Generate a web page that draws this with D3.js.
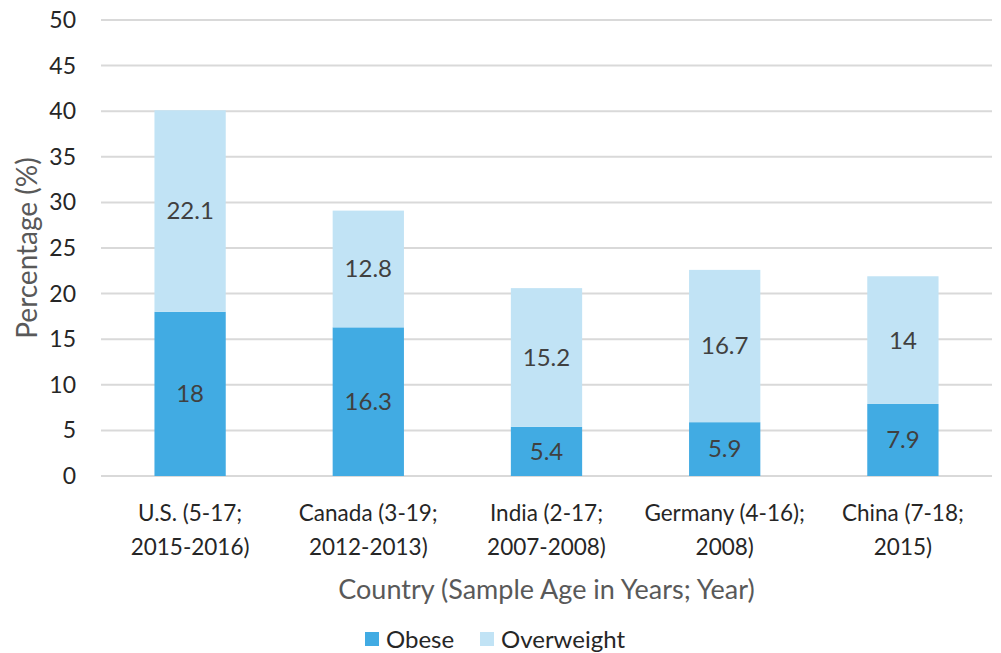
<!DOCTYPE html>
<html>
<head>
<meta charset="utf-8">
<script src="https://cdn.jsdelivr.net/npm/d3@7"></script>
<style>
  body { margin: 0; background: #fff; }
  svg text { font-family: Lato, "Open Sans", sans-serif; }
</style>
</head>
<body>
<div id="chart"></div>
<script>
// chart data
var categories = [
    ["U.S. (5-17;", "2015-2016)"],
    ["Canada (3-19;", "2012-2013)"],
    ["India (2-17;", "2007-2008)"],
    ["Germany (4-16);", "2008)"],
    ["China (7-18;", "2015)"]
]
var obese = [18, 16.3, 5.4, 5.9, 7.9]
var overweight = [22.1, 12.8, 15.2, 16.7, 14]
var yTicks = [0, 5, 10, 15, 20, 25, 30, 35, 40, 45, 50]
var seriesNames = ["Obese", "Overweight"]
var colors = ["#41ABE3", "#C1E3F5"]

var width = 1001, height = 653
var margin = { top: 20, right: 9, bottom: 177, left: 101 }

var svg = d3.select("#chart").append("svg")
    .attr("width", width)
    .attr("height", height)

var x = d3.scaleBand()
    .domain(d3.range(categories.length))
    .range([margin.left, width - margin.right])
    .paddingInner(0.6)
    .paddingOuter(0.3)

var y = d3.scaleLinear()
    .domain([0, 50])
    .range([height - margin.bottom, margin.top])

// gridlines
svg.append("g")
    .selectAll("line")
    .data(yTicks)
    .enter()
    .append("line")
    .attr("x1", margin.left)
    .attr("x2", width - margin.right)
    .attr("y1", d => y(d))
    .attr("y2", d => y(d))
    .attr("stroke", "#d9d9d9")
    .attr("stroke-width", 2)

// y tick labels
svg.append("g")
    .selectAll("text")
    .data(yTicks)
    .enter()
    .append("text")
    .attr("x", 76)
    .attr("y", d => y(d))
    .attr("dy", "0.35em")
    .attr("text-anchor", "end")
    .attr("font-size", 23)
    .attr("fill", "#262626")
    .text(d => d)

// stacked data
var rows = categories.map(function (c, i) {
    return { i: i, Obese: obese[i], Overweight: overweight[i] }
})
var stack = d3.stack().keys(seriesNames)
var series = stack(rows)

var groups = svg.append("g")
    .selectAll("g")
    .data(series)
    .enter()
    .append("g")
    .attr("fill", (d, k) => colors[k])

groups.selectAll("rect")
    .data(d => d)
    .enter()
    .append("rect")
    .attr("x", d => x(d.data.i))
    .attr("width", x.bandwidth())
    .attr("y", d => y(d[1]))
    .attr("height", d => y(d[0]) - y(d[1]))

// value labels
groups.selectAll("text")
    .data(function (d) { return d.map(p => ({ p: p, key: d.key })) })
    .enter()
    .append("text")
    .attr("x", d => x(d.p.data.i) + x.bandwidth() / 2)
    .attr("y", d => y((d.p[0] + d.p[1]) / 2))
    .attr("dy", "0.35em")
    .attr("text-anchor", "middle")
    .attr("font-size", 24)
    .attr("fill", "#404040")
    .text(d => d.p.data[d.key])

// x category labels
var xl = svg.append("g")
    .selectAll("text")
    .data(categories)
    .enter()
    .append("text")
    .attr("text-anchor", "middle")
    .attr("font-size", 22.5)
    .attr("fill", "#262626")
    .attr("x", (d, i) => x(i) + x.bandwidth() / 2)
xl.append("tspan")
    .attr("x", (d, i) => x(i) + x.bandwidth() / 2)
    .attr("y", 521)
    .text(d => d[0])
xl.append("tspan")
    .attr("x", (d, i) => x(i) + x.bandwidth() / 2)
    .attr("y", 555)
    .text(d => d[1])

// axis titles
svg.append("text")
    .attr("x", (margin.left + width - margin.right) / 2)
    .attr("y", 599)
    .attr("text-anchor", "middle")
    .attr("font-size", 27)
    .attr("fill", "#595959")
    .text("Country (Sample Age in Years; Year)")

svg.append("text")
    .attr("transform", "translate(37," + y(25) + ") rotate(-90)")
    .attr("text-anchor", "middle")
    .attr("font-size", 28)
    .attr("fill", "#595959")
    .text("Percentage (%)")

// legend
var legendX = [365, 480]
var legend = svg.append("g")
    .selectAll("g")
    .data(seriesNames)
    .enter()
    .append("g")
    .attr("transform", (d, i) => "translate(" + legendX[i] + ",632)")
legend.append("rect")
    .attr("width", 14)
    .attr("height", 14)
    .attr("fill", (d, i) => colors[i])
legend.append("text")
    .attr("x", 21)
    .attr("y", 16)
    .attr("font-size", 24)
    .attr("fill", "#262626")
    .text(d => d)
</script>
</body>
</html>
